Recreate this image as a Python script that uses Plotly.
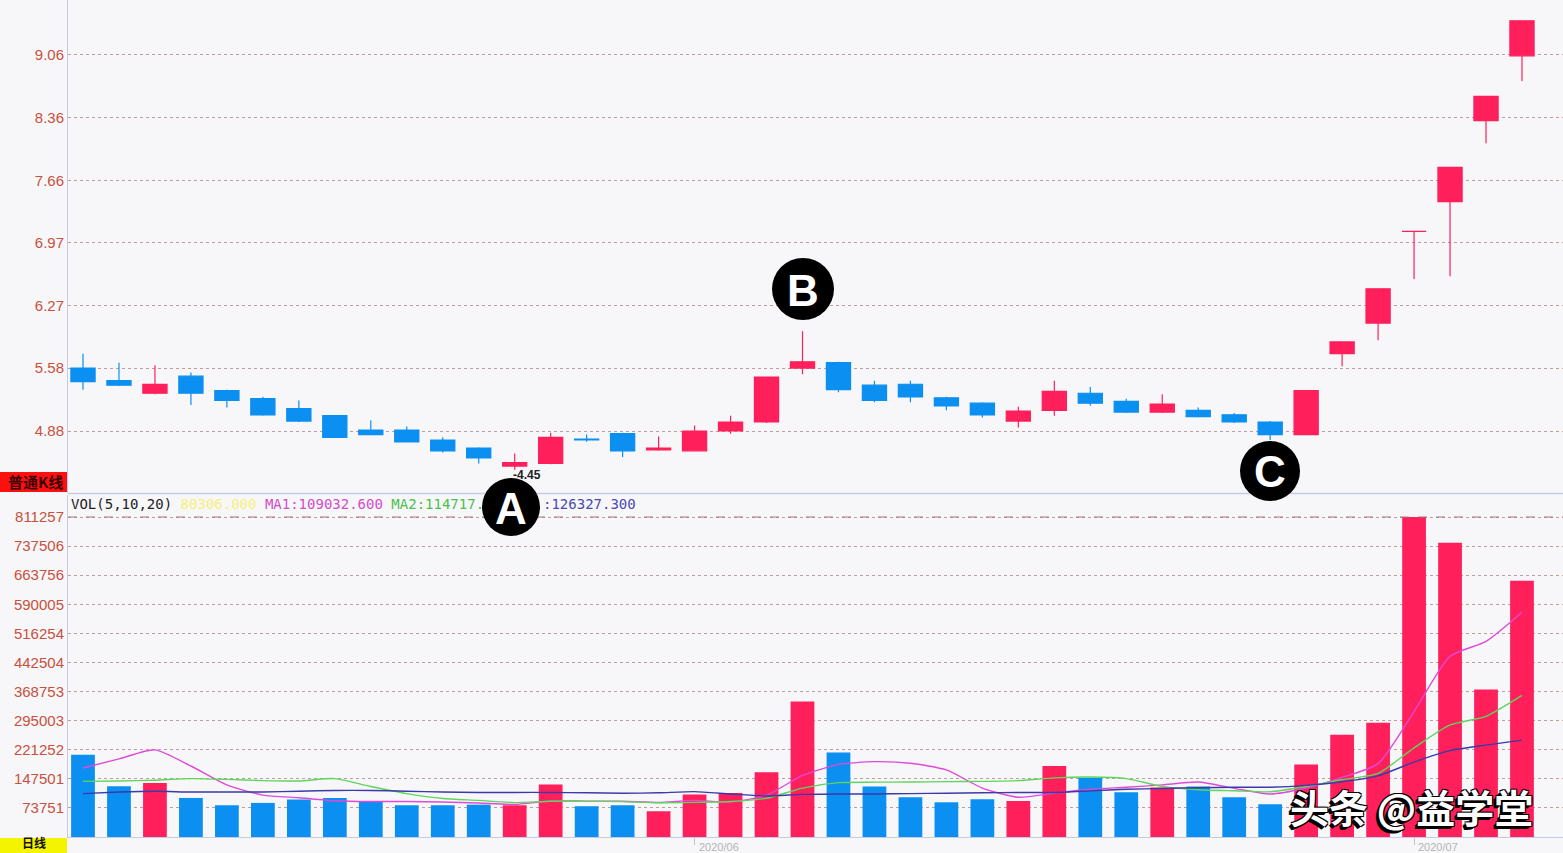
import plotly.graph_objects as go

# ---------------- data ----------------
dates = [
    "2020-05-07", "2020-05-08", "2020-05-11", "2020-05-12", "2020-05-13", "2020-05-14", "2020-05-15",
    "2020-05-18", "2020-05-19", "2020-05-20", "2020-05-21", "2020-05-22", "2020-05-25", "2020-05-26",
    "2020-05-27", "2020-05-28", "2020-05-29", "2020-06-01", "2020-06-02", "2020-06-03", "2020-06-04",
    "2020-06-05", "2020-06-08", "2020-06-09", "2020-06-10", "2020-06-11", "2020-06-12", "2020-06-15",
    "2020-06-16", "2020-06-17", "2020-06-18", "2020-06-19", "2020-06-22", "2020-06-23", "2020-06-24",
    "2020-06-29", "2020-06-30", "2020-07-01", "2020-07-02", "2020-07-03", "2020-07-06",
]
opens = [5.58, 5.44, 5.30, 5.49, 5.33, 5.24, 5.13, 5.05, 4.89, 4.89, 4.78, 4.69, 4.49, 4.52,
         4.79, 4.85, 4.67, 4.66, 4.88, 4.98, 5.58, 5.64, 5.39, 5.40, 5.25, 5.19, 4.99, 5.11,
         5.30, 5.21, 5.09, 5.11, 5.06, 4.98, 4.84, 5.74, 6.08, 7.10, 7.43, 8.33, 9.05]
highs = [5.74, 5.64, 5.61, 5.53, 5.34, 5.26, 5.22, 5.05, 5.00, 4.93, 4.81, 4.70, 4.63, 4.86,
         4.84, 4.86, 4.82, 4.94, 5.05, 5.48, 5.99, 5.65, 5.44, 5.44, 5.26, 5.20, 5.15, 5.44,
         5.37, 5.24, 5.29, 5.14, 5.08, 4.99, 5.33, 5.87, 6.46, 7.10, 7.81, 8.60, 9.44]
lows = [5.34, 5.38, 5.29, 5.17, 5.14, 5.05, 4.98, 4.81, 4.84, 4.76, 4.64, 4.52, 4.45, 4.51,
        4.76, 4.59, 4.66, 4.66, 4.85, 4.97, 5.51, 5.31, 5.20, 5.20, 5.11, 5.03, 4.92, 5.05,
        5.16, 5.08, 5.08, 5.03, 4.97, 4.78, 4.84, 5.60, 5.89, 6.57, 6.60, 8.08, 8.77]
closes = [5.43, 5.39, 5.40, 5.30, 5.22, 5.06, 4.99, 4.81, 4.84, 4.76, 4.66, 4.58, 4.53, 4.81,
          4.78, 4.66, 4.69, 4.88, 4.98, 5.48, 5.65, 5.34, 5.22, 5.26, 5.16, 5.06, 5.10, 5.32,
          5.19, 5.09, 5.18, 5.04, 4.98, 4.84, 5.33, 5.87, 6.46, 7.10, 7.81, 8.60, 9.44]
volumes = [208600, 128500, 137000, 99000, 80500, 86400, 94800, 99000, 89000, 80500, 80500,
           82000, 80500, 132800, 78000, 80500, 65300, 107500, 111700, 164000, 343300, 214000,
           127800, 100800, 88000, 95700, 91500, 180200, 150000, 113500, 125300, 127800, 100800,
           83000, 184000, 259500, 289700, 811257, 745900, 373800, 649500]
ma5 = [175000, 198000, 221000, 180000, 132000, 106300, 99500, 91900, 89900, 89900, 88800,
       86200, 82500, 91300, 90800, 90800, 87400, 92800, 88600, 105800, 156000, 184000, 191000,
       187000, 170000, 124000, 100800, 111200, 121000, 126100, 132100, 139300, 123400, 109000,
       124200, 151000, 186000, 318000, 458100, 496000, 570000]
ma10 = [141000, 142000, 144000, 148000, 146000, 143000, 142000, 148000, 128000, 110000, 97500,
        92900, 87200, 90600, 90400, 89800, 86800, 87700, 89900, 98300, 124000, 137800, 139000,
        139300, 140300, 141000, 143000, 150000, 152000, 148000, 128400, 119800, 117100, 114700,
        128000, 145000, 161100, 226000, 284100, 306000, 359000]
ma20 = [110000, 114000, 116000, 114000, 114000, 114000, 116000, 118000, 118000, 116000, 114000,
        113000, 113000, 113000, 112000, 111000, 112000, 115000, 109000, 104000, 108000, 109000,
        109000, 110000, 111000, 112000, 113000, 113000, 117000, 121000, 123000, 125000, 126000,
        126300, 131000, 140000, 155000, 190000, 219000, 233000, 245500]
price_ticks = [4.88, 5.58, 6.27, 6.97, 7.66, 8.36, 9.06]
vol_ticks = [73751, 147501, 221252, 295003, 368753, 442504, 516254, 590005, 663756, 737506, 811257]
month_ticks = ["2020-06-01", "2020-07-01"]
month_labels = ["2020/06", "2020/07"]
low_label = "4.45"
low_index = 12

# ---------------- style ----------------
RED = "#ff1f5b"
BLUE = "#0b8ff0"
BG = "#f7f7fa"
GRID = "#c09c9c"
AXIS = "#c6cae2"
TICKC = "#c8503c"
W, H = 1563, 853
ML, MB = 68, 16
PW, PH = W - ML, H - MB


def PX(px):
    return (px - ML) / PW


def PY(py):
    return (PH - py) / PH


up = [c >= o for o, c in zip(opens, closes)]

fig = go.Figure()

# volume bars
fig.add_trace(go.Bar(
    x=dates, y=volumes, marker=dict(color=[RED if u else BLUE for u in up], line=dict(width=0)),
    width=0.66, xaxis="x", yaxis="y2", showlegend=False, hoverinfo="skip"))

# moving averages of volume
for arr, col in ((ma5, "#e04ad8"), (ma10, "#5cd65c"), (ma20, "#3a3aa8")):
    fig.add_trace(go.Scatter(x=dates, y=arr, mode="lines",
                             line=dict(color=col, width=1.4, shape="spline", smoothing=0.6),
                             xaxis="x", yaxis="y2", showlegend=False, hoverinfo="skip"))

# candlesticks (red = close >= open, blue = close < open)
for flag, col in ((True, RED), (False, BLUE)):
    idx = [i for i, u in enumerate(up) if u == flag]
    fig.add_trace(go.Candlestick(
        x=[dates[i] for i in idx],
        open=[opens[i] for i in idx], high=[highs[i] for i in idx],
        low=[lows[i] for i in idx], close=[closes[i] for i in idx],
        increasing=dict(line=dict(color=col, width=1.2), fillcolor=col),
        decreasing=dict(line=dict(color=col, width=1.2), fillcolor=col),
        whiskerwidth=0, xaxis="x2", yaxis="y", showlegend=False, hoverinfo="skip"))

price_bottom = PY(493)
vol_top = PY(495)
vol_range_top = 811257 / (837 - 517) * (837 - 495)

fig.update_layout(
    width=W, height=H,
    margin=dict(l=ML, r=0, t=0, b=MB, pad=0),
    paper_bgcolor=BG, plot_bgcolor=BG, showlegend=False,
    boxgap=0.04, boxgroupgap=0.3,
    xaxis=dict(domain=[0, 1], anchor="y2", type="category", categoryorder="array",
               categoryarray=dates, range=[-0.417, 41.14], showgrid=False,
               showline=True, linecolor=AXIS, linewidth=1, zeroline=False,
               tickvals=month_ticks, ticktext=["", ""], ticks="outside", ticklen=7,
               tickcolor="#c4c4c4", showticklabels=False),
    xaxis2=dict(domain=[0, 1], anchor="y", type="category", matches="x", categoryorder="array",
                categoryarray=dates, showgrid=False, showticklabels=False, ticks="",
                showline=False, zeroline=False, rangeslider=dict(visible=False)),
    yaxis=dict(domain=[price_bottom, 1], range=[4.191, 9.671], tickvals=price_ticks,
               ticktext=[f"{v:.2f}" for v in price_ticks], showgrid=True, gridcolor=GRID,
               griddash="dot", gridwidth=1, showline=True, linecolor=AXIS, zeroline=False,
               ticks="", tickfont=dict(family="Liberation Sans, Arial", size=15, color=TICKC),
               ticklabelstandoff=0),
    yaxis2=dict(domain=[0, vol_top], range=[0, vol_range_top], tickvals=vol_ticks,
                ticktext=[str(v) for v in vol_ticks], showgrid=True, gridcolor=GRID,
                griddash="dot", gridwidth=1, showline=True, linecolor=AXIS, zeroline=False,
                ticks="", tickfont=dict(family="Liberation Sans, Arial", size=15, color=TICKC),
                ticklabelstandoff=0),
)

shapes = []
annotations = []

# separator between panels
shapes.append(dict(type="line", xref="paper", yref="paper", x0=0, x1=1, y0=PY(493.5), y1=PY(493.5),
                   line=dict(color=AXIS, width=1.5)))
# top dashed line of volume panel
shapes.append(dict(type="line", xref="paper", yref="y2", x0=0, x1=1, y0=811257, y1=811257,
                   line=dict(color="#a07a7a", width=1, dash="dash")))

# left red label box and bottom yellow box
shapes.append(dict(type="rect", xref="paper", yref="paper", x0=PX(0), x1=PX(67), y0=PY(492), y1=PY(472),
                   fillcolor="#ff1010", line=dict(width=0)))
annotations.append(dict(xref="paper", yref="paper", x=PX(65), y=PY(482), xanchor="right", yanchor="middle",
                        text="普通K线", showarrow=False,
                        font=dict(family="Noto Sans CJK SC", size=15, color="#3a0000", weight="bold")))
shapes.append(dict(type="rect", xref="paper", yref="paper", x0=PX(0), x1=PX(67), y0=PY(853), y1=PY(838),
                   fillcolor="#f4f400", line=dict(width=0)))
annotations.append(dict(xref="paper", yref="paper", x=PX(20), y=PY(853), xanchor="left", yanchor="bottom",
                        text="日线", showarrow=False,
                        font=dict(family="Noto Sans CJK SC", size=12, color="#111111", weight="bold")))

# month labels
for d, lab in zip(month_ticks, month_labels):
    i = dates.index(d)
    annotations.append(dict(xref="paper", yref="paper", x=PX(83 + 35.975 * i + 2), y=PY(839),
                            xanchor="left", yanchor="top", text=lab, showarrow=False,
                            font=dict(family="Liberation Sans, Arial", size=11, color="#b4b4b4")))

# VOL legend line (the part hidden under marker A in the reference is not drawn)
legend_left = ("<span style='color:#222222'>VOL(5,10,20)</span> "
               "<span style='color:#f5f07a'>80306.000</span> "
               "<span style='color:#d24cc8'>MA1:109032.600</span> "
               "<span style='color:#4cbf4c'>MA2:114717.</span>")
annotations.append(dict(xref="paper", yref="paper", x=PX(69), y=PY(504), xanchor="left", yanchor="middle",
                        text=legend_left, showarrow=False,
                        font=dict(family="DejaVu Sans Mono", size=14, color="#222222")))
annotations.append(dict(xref="paper", yref="paper", x=PX(541), y=PY(504), xanchor="left", yanchor="middle",
                        text=":126327.300", showarrow=False,
                        font=dict(family="DejaVu Sans Mono", size=14, color="#4a4ab0")))

# low price label
annotations.append(dict(x=dates[low_index], y=lows[low_index], xref="x2", yref="y",
                        xanchor="left", yanchor="top", xshift=-4, yshift=4,
                        text="-" + low_label, showarrow=False,
                        font=dict(family="Liberation Sans, Arial", size=12, color="#222222", weight="bold")))

# A / B / C markers
for (cx, cy, d, letter) in ((511, 507, 58, "A"), (803, 289, 62, "B"), (1270, 471, 60, "C")):
    r = d / 2
    shapes.append(dict(type="circle", xref="paper", yref="paper", x0=PX(cx - r), x1=PX(cx + r),
                       y0=PY(cy + r), y1=PY(cy - r), fillcolor="#000000", line=dict(width=0)))
    annotations.append(dict(xref="paper", yref="paper", x=PX(cx), y=PY(cy + 1), xanchor="center",
                            yanchor="middle", text=letter, showarrow=False,
                            font=dict(family="Liberation Sans, Arial", size=44, color="#ffffff",
                                      weight="bold")))

# watermark
annotations.append(dict(xref="paper", yref="paper", x=PX(1411), y=PY(806), xanchor="center", yanchor="middle",
                        text="头条 @益学堂", showarrow=False,
                        font=dict(family="Noto Sans CJK SC", size=39, color="#ffffff", weight="bold",
                                  shadow="-3px 3px 0px #000, -1px -1px 0 #000, 1px -1px 0 #000, "
                                         "-1px 1px 0 #000, 1px 1px 0 #000, -2px 2px 0 #000")))

fig.update_layout(shapes=shapes, annotations=annotations)
fig.write_html("out.html", config={"displayModeBar": False},
               post_script="document.body.style.margin='0px';document.body.style.overflow='hidden';")
